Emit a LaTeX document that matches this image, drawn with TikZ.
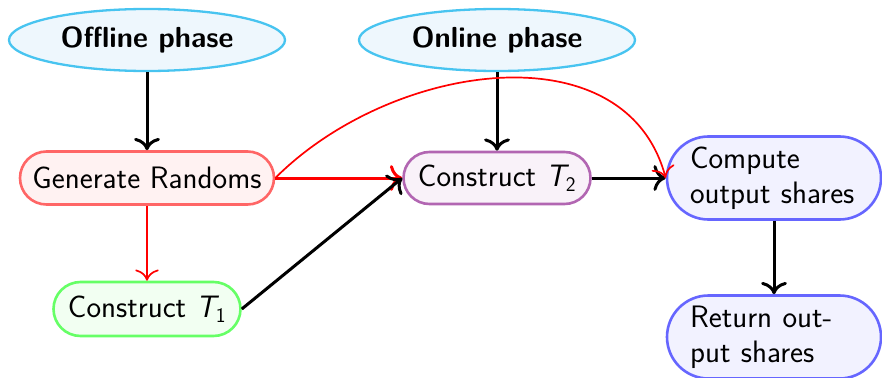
\documentclass[tikz,border=0pt]{standalone}
\usetikzlibrary{shapes.geometric,arrows.meta}
\definecolor{phaseline}{RGB}{72,196,240}
\definecolor{phasefill}{RGB}{238,247,253}
\begin{document}
\begin{tikzpicture}[x=1pt,y=-1pt,
  every node/.style={font=\fontsize{31}{35}\selectfont\sffamily},
  phase/.style={ellipse, draw=phaseline, fill=phasefill, line width=2.3pt,
    minimum width=276pt, minimum height=62pt, inner sep=0pt,
    font=\fontsize{29}{35}\selectfont\sffamily\bfseries},
  pill/.style={rectangle, line width=2.6pt, inner sep=0pt},
  twoline/.style={pill, draw=blue!60, fill=blue!5, minimum width=214pt,
    minimum height=83pt, rounded corners=41.5pt, text width=168pt,
    align=left, inner xsep=23pt},
  blk/.style={-{To[scale=1.5]}, line width=3pt, black},
  redthin/.style={-{To[scale=2.1]}, line width=1.7pt, red},
  redthick/.style={-{To[scale=1.5]}, line width=3pt, red},
]
\useasboundingbox (0,0) rectangle (882,377);
\clip (0,0) rectangle (882,377);

% phase headers
\node[phase] (off) at (147,40) {Offline phase};
\node[phase] (on)  at (497,40) {Online phase};

% processing steps
\node[pill, draw=red!60, fill=red!5, minimum width=254pt, minimum height=53pt,
  rounded corners=26.5pt] (gen) at (147,178) {Generate Randoms};
\node[pill, draw=green!60, fill=green!5, minimum width=187pt, minimum height=54pt,
  rounded corners=27pt] (t1) at (147,309) {Construct {\itshape T}$_{\mathsf{1}}$};
\node[pill, draw=violet!60, fill=violet!5, minimum width=187pt, minimum height=52pt,
  rounded corners=26pt] (t2) at (497,178) {Construct {\itshape T}$_{\mathsf{2}}$};
\node[twoline] (comp) at (774,178) {Compute\\output shares};
\node[twoline] (ret)  at (774,337) {Return out-\\put shares};

% connectors
\draw[blk] (off) -- (gen);
\draw[blk] (on) -- (t2);
\draw[redthin] (gen) -- (t1);
\draw[redthick] (gen) -- (t2);
\draw[blk] (t1.east) -- (t2.west);
\draw[blk] (t2) -- (comp);
\draw[redthin] (gen.east) to[out=45, in=105, out distance=165pt, in distance=155pt] (comp.west);
\draw[blk] (comp) -- (ret);
\end{tikzpicture}
\end{document}
